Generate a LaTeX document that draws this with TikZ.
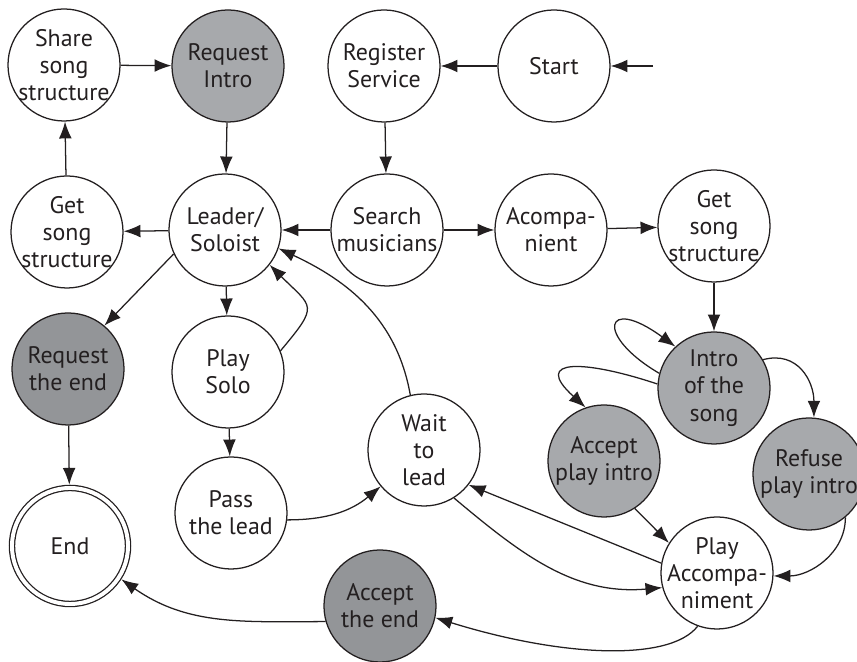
\documentclass[tikz,border=0pt]{standalone}
\usepackage{fontspec}
\setmainfont{PT Sans}
\usepackage{tikz}
\usetikzlibrary{arrows.meta, positioning}

\definecolor{ink}{RGB}{35,31,32}
\definecolor{stategrey}{RGB}{167,169,172}
\definecolor{statedark}{RGB}{147,149,152}

\tikzset{
	state/.style={circle, draw=ink, line width=0.9pt, fill=white, minimum size=2.8cm, inner sep=-2mm, align=center, text=ink, font=\fontsize{17}{19.4}\selectfont},
	greystate/.style={state, fill=stategrey},
	darkstate/.style={state, fill=statedark},
	finalstate/.style={state, double=white, double distance=2.8pt, minimum size=2.9cm, outer sep=2.3pt},
	trans/.style={draw=ink, line width=0.9pt, -{Latex[length=4.2mm, width=3.2mm]}},
}

\begin{document}
\begin{tikzpicture}[x=0.025cm, y=0.025cm]
	\useasboundingbox (0,0) rectangle (857,662);
	
	% top row
	\node[state] (share) at (64,597) {Share\\song\\structure};
	\node[greystate] (reqintro) at (228,596) {Request\\Intro};
	\node[state] (register) at (384,596) {Register\\Service};
	\node[state] (start) at (554,596) {Start};
	\coordinate (entry) at (653,596);
	
	% second row
	\node[state] (getl) at (67,430) {Get\\song\\structure};
	\node[state] (leader) at (225,432) {Leader/\\Soloist};
	\node[state] (search) at (387,432) {Search\\musicians};
	\node[state] (acomp) at (551,432) {Acompa-\\nient};
	\node[state] (getr) at (714,436) {Get\\song\\structure};
	
	% soloist side
	\node[darkstate] (reqend) at (68,293) {Request\\the end};
	\node[state] (solo) at (228,290) {Play\\Solo};
	\node[state] (pass) at (231,149) {Pass\\the lead};
	\node[state] (wait) at (424,212) {Wait\\to\\lead};
	\node[finalstate] (end) at (70,116) {End};
	\node[darkstate] (accend) at (380,56) {Accept\\the end};
	
	% accompanist side
	\node[greystate] (intro) at (714,274) {Intro\\of the\\song};
	\node[greystate] (accintro) at (604,201) {Accept\\play intro};
	\node[greystate] (refuse) at (809,188) {Refuse\\play intro};
	\node[state] (playacc) at (717,89) {Play\\Accompa-\\niment};
	
	\draw[trans] (entry) -- (start);
	\draw[trans] (start) -- (register);
	\draw[trans] (register) -- (search);
	\draw[trans] (search) -- (leader);
	\draw[trans] (search) -- (acomp);
	\draw[trans] (acomp) -- (getr);
	\draw[trans] (getr) -- (intro);
	\draw[trans] (share) -- (reqintro);
	\draw[trans] (getl) -- (share);
	\draw[trans] (reqintro) -- (leader);
	\draw[trans] (leader) -- (getl);
	\draw[trans] (leader.205) -- (reqend.50);
	\draw[trans] (leader) -- (solo);
	\draw[trans] (solo.22) to[out=50, in=-45, looseness=1.8] (leader.-38);
	\draw[trans] (solo) -- (pass);
	\draw[trans] (pass.-7) to[out=0, in=-140] (wait.220);
	\draw[trans] (wait.104) to[out=100, in=-25] (leader.-19);
	\draw[trans] (wait.-58) to[out=-40, in=185] (playacc.195);
	\draw[trans] (playacc.170) -- (wait.-38);
	\draw[trans] (reqend) -- (end);
	\draw[trans] (playacc.-110) .. controls +(-28,-36) and +(125,-39) .. (accend.-12);
	\draw[trans] (accend.196) to[out=180, in=-35] (end.-33);
	
	% intro loops
	\draw[trans] (intro.165) .. controls +(-65,38) and +(-71,52) .. (intro.133);
	\draw[trans] (intro.176) .. controls +(-72,24) and +(-55,50) .. (accintro.109);
	\draw[trans] (intro.30) to[out=15, in=90, looseness=1.2] (refuse.85);
	\draw[trans] (refuse.-50) to[out=-90, in=0] (playacc.-3);
	\draw[trans] (accintro.-57) -- (playacc.148);
\end{tikzpicture}
\end{document}
